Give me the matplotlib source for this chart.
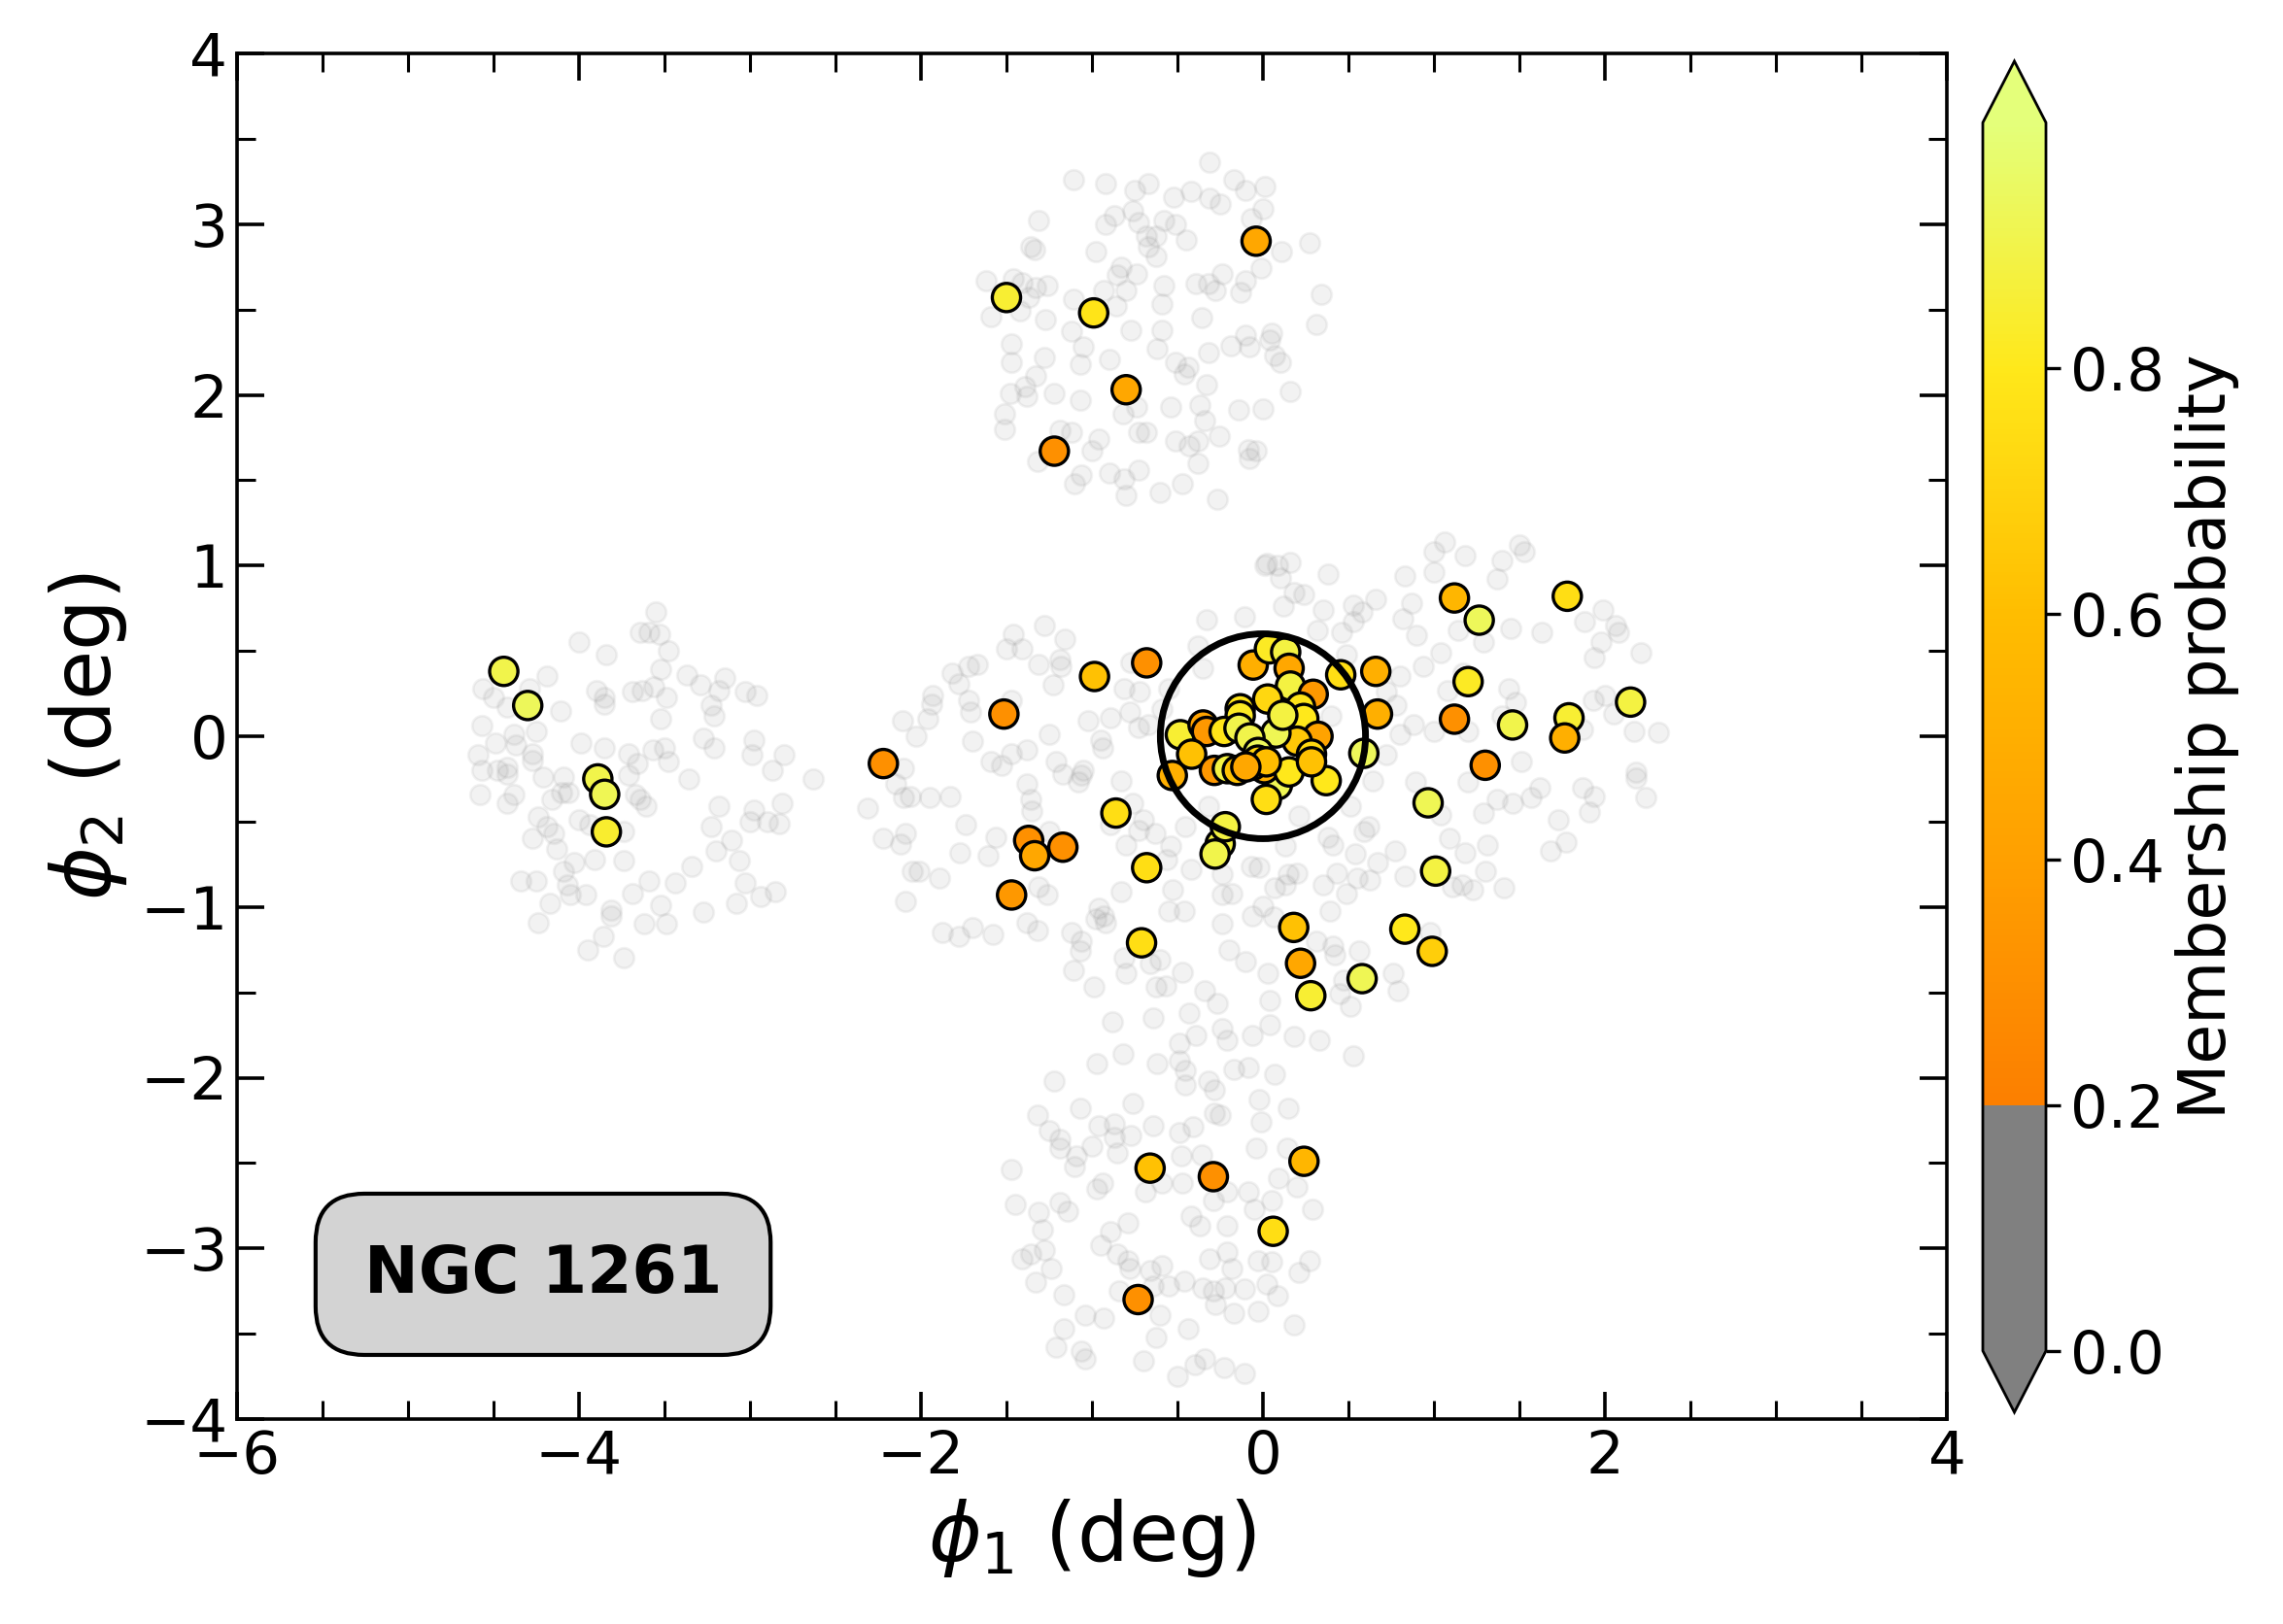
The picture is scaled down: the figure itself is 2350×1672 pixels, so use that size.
import numpy as np
import matplotlib
matplotlib.use("Agg")
import matplotlib.pyplot as plt
from matplotlib.colors import ListedColormap, Normalize
from matplotlib.patches import Circle
from matplotlib.ticker import MultipleLocator

# ---------------- data ----------------
# background stars (membership probability < 0.2), grouped by field
left_x = [-3.55,-3.64,-3.59,-3.53,-4.00,-3.84,-3.48,-3.52,-4.19,-4.56,-4.50,-4.42,-4.29,-3.90,-3.85,-3.85,-3.69,-3.63,-3.56,-3.49,
          -3.37,-3.29,-3.15,-3.18,-3.23,-3.21,-3.03,-2.96,-4.11,-3.52,-4.57,-4.49,-4.38,-4.37,-4.25,-4.59,-4.57,-4.48,-4.42,-4.42,
          -4.27,-4.27,-4.21,-3.99,-3.85,-3.71,-3.66,-3.57,-3.50,-3.48,-3.36,-3.27,-3.21,-2.98,-2.99,-2.80,-2.87,-2.63,-4.09,-3.71,
          -4.58,-4.42,-4.38,-4.16,-4.10,-4.06,-3.67,-3.61,-3.64,-4.24,-4.19,-4.15,-4.27,-4.13,-4.00,-3.94,-3.74,-3.91,-3.74,-4.03,
          -4.09,-4.07,-4.05,-3.96,-4.34,-4.25,-4.17,-4.24,-3.81,-3.81,-3.69,-3.59,-3.44,-3.34,-3.52,-3.62,-3.49,-3.27,-3.18,-3.23,
          -3.11,-3.20,-3.06,-2.98,-3.00,-2.90,-2.81,-2.83,-3.03,-2.94,-2.85,-3.08,-3.86,-3.95,-3.74]
left_y = [0.73,0.61,0.61,0.60,0.55,0.48,0.50,0.39,0.35,0.28,0.23,0.17,0.28,0.27,0.23,0.19,0.26,0.27,0.29,0.23,
          0.36,0.30,0.34,0.27,0.18,0.12,0.26,0.24,0.15,0.10,0.06,-0.04,0.01,-0.05,0.03,-0.11,-0.20,-0.20,-0.18,-0.22,
          -0.10,-0.14,-0.24,-0.04,-0.07,-0.10,-0.16,-0.08,-0.07,-0.15,-0.25,-0.01,-0.07,-0.02,-0.11,-0.11,-0.20,-0.25,-0.24,-0.23,
          -0.34,-0.39,-0.34,-0.37,-0.33,-0.33,-0.34,-0.41,-0.37,-0.47,-0.53,-0.57,-0.60,-0.66,-0.49,-0.52,-0.56,-0.72,-0.73,-0.74,
          -0.79,-0.87,-0.93,-0.93,-0.85,-0.85,-0.98,-1.09,-1.02,-1.05,-0.92,-0.85,-0.86,-0.76,-0.99,-1.10,-1.10,-1.03,-0.41,-0.53,
          -0.61,-0.67,-0.73,-0.43,-0.50,-0.50,-0.39,-0.51,-0.86,-0.94,-0.91,-0.98,-1.17,-1.25,-1.30]

top_x = [-0.31,-1.11,-0.92,-0.75,-0.67,-0.52,-0.42,-0.31,-0.25,-0.17,-0.10,0.01,0.00,-0.07,-1.31,-0.92,-0.87,-0.76,-0.73,-0.68,
         -0.625,-0.58,-0.51,-0.45,-0.67,-0.625,-1.36,-1.335,-0.98,0.11,0.275,-1.62,-1.46,-1.41,-1.33,-1.26,-1.37,-1.42,-1.59,-1.27,
         -1.11,-0.93,-0.83,-0.85,-0.74,-0.80,-0.86,-0.58,-0.59,-0.39,-0.32,-0.28,-0.24,-0.13,-0.10,-0.01,0.34,0.31,-0.36,-0.77,
         -0.59,-1.12,-1.05,-1.07,-0.90,-1.47,-1.47,-1.28,-1.33,-0.62,-0.51,-0.435,-0.46,-0.33,-0.32,-0.19,-0.10,-0.08,0.05,0.04,
         0.07,0.10,0.16,-1.48,-1.39,-1.38,-1.22,-1.07,-1.51,-1.51,-0.82,-0.74,-0.54,-0.37,-0.34,-0.14,0.00,-1.19,-1.12,-0.96,
         -1.00,-1.32,-0.73,-0.68,-0.51,-0.43,-0.38,-0.255,-0.085,-0.08,-0.04,-0.38,-1.10,-1.06,-0.90,-0.81,-0.73,-0.80,-0.60,-0.47,
         -0.265]
top_y = [3.36,3.26,3.24,3.20,3.24,3.16,3.19,3.15,3.12,3.26,3.20,3.22,3.09,3.03,3.02,3.00,3.05,3.08,3.01,2.93,
         2.93,3.02,3.00,2.91,2.87,2.81,2.87,2.85,2.84,2.84,2.89,2.67,2.68,2.66,2.63,2.64,2.57,2.49,2.46,2.44,
         2.56,2.61,2.75,2.70,2.71,2.61,2.52,2.64,2.53,2.65,2.65,2.61,2.71,2.60,2.67,2.74,2.59,2.41,2.45,2.38,
         2.38,2.37,2.28,2.18,2.21,2.30,2.19,2.22,2.11,2.27,2.19,2.16,2.12,2.06,2.25,2.29,2.35,2.28,2.36,2.32,
         2.23,2.19,2.02,2.01,2.05,1.99,2.01,1.97,1.89,1.80,1.89,1.93,1.93,1.94,1.85,1.91,1.92,1.79,1.78,1.74,
         1.67,1.61,1.78,1.78,1.73,1.70,1.73,1.76,1.68,1.63,1.67,1.60,1.48,1.53,1.54,1.51,1.56,1.41,1.43,1.48,
         1.39]

bottom_x = [-0.88,-0.64,-0.43,-0.39,-0.24,-0.21,-0.06,0.04,0.18,0.33,0.53,-0.82,-0.97,-0.62,-0.49,-0.49,-0.455,-0.455,-0.32,-0.285,
            -0.17,-0.085,0.07,-1.22,-1.32,-1.07,-0.76,-1.25,-1.19,-1.19,-1.09,-1.10,-1.00,-0.96,-0.87,-0.87,-0.85,-0.77,-0.64,-0.49,
            -0.41,-0.285,-0.25,-0.02,-0.01,0.15,-0.04,0.14,-1.47,-0.97,-0.94,-0.69,-0.59,-0.48,-0.47,-0.36,-0.29,-0.21,-0.085,-0.05,
            0.05,0.09,0.20,0.29,-1.45,-1.31,-1.19,-1.14,-1.29,-1.41,-1.36,-1.28,-1.24,-1.33,-0.79,-0.89,-0.95,-0.85,-0.79,-0.78,
            -0.66,-0.59,-0.42,-0.37,-0.21,-0.31,-0.21,-0.18,-0.03,0.05,0.21,0.27,-1.165,-1.04,-0.93,-0.84,-0.64,-0.55,-0.46,-0.35,
            -0.29,-0.28,-0.22,-0.11,-0.17,-0.03,0.02,0.085,0.18,-0.60,-0.44,-0.625,-1.165,-1.21,-1.06,-1.04,-0.70,-0.50,-0.40,-0.34,
            -0.23,-0.11]
bottom_y = [-1.67,-1.65,-1.62,-1.75,-1.71,-1.78,-1.75,-1.69,-1.76,-1.78,-1.87,-1.86,-1.92,-1.92,-1.80,-1.90,-1.96,-2.04,-2.02,-2.07,
            -1.95,-1.94,-1.98,-2.02,-2.22,-2.18,-2.15,-2.31,-2.36,-2.41,-2.46,-2.52,-2.40,-2.28,-2.27,-2.35,-2.44,-2.34,-2.28,-2.32,
            -2.29,-2.21,-2.22,-2.13,-2.26,-2.18,-2.41,-2.41,-2.54,-2.65,-2.62,-2.67,-2.62,-2.46,-2.62,-2.45,-2.72,-2.67,-2.67,-2.77,
            -2.72,-2.59,-2.64,-2.77,-2.74,-2.79,-2.73,-2.78,-2.89,-3.06,-3.03,-3.01,-3.12,-3.20,-2.85,-2.90,-2.98,-3.03,-3.07,-3.12,
            -3.13,-3.10,-2.81,-2.87,-2.87,-3.06,-3.02,-3.12,-3.07,-3.08,-3.14,-3.07,-3.27,-3.39,-3.41,-3.25,-3.22,-3.22,-3.19,-3.23,
            -3.25,-3.33,-3.23,-3.24,-3.38,-3.37,-3.21,-3.28,-3.45,-3.39,-3.47,-3.52,-3.47,-3.58,-3.60,-3.65,-3.66,-3.75,-3.68,-3.65,
            -3.70,-3.73]

central_x = [0.01,-0.33,-0.11,-0.38,-0.35,-1.28,-1.46,-1.50,-1.41,-1.16,-1.31,-1.19,-1.18,-1.23,-1.67,-1.72,-1.82,-1.78,-1.93,-1.94,
             -1.72,-1.71,-1.47,-2.11,-1.96,-2.03,-0.77,-0.81,-0.72,-0.55,-1.02,-0.89,-0.78,-0.73,-0.67,-0.95,-0.94,-1.25,-1.70,-1.59,
             -1.53,-1.47,-1.38,-1.21,-1.05,-2.10,-0.59,
             0.02,0.085,0.16,0.10,0.18,0.24,0.38,0.12,0.35,0.32,0.46,0.53,0.53,0.58,0.66,0.83,0.87,0.82,0.90,1.00,
             1.00,1.06,1.18,1.40,1.50,1.53,1.37,1.14,1.29,1.45,1.63,1.04,0.94,0.80,0.72,0.78,0.80,0.88,1.00,1.20,
             1.08,1.17,1.44,1.48,1.40,1.99,1.88,2.06,2.08,1.98,1.94,2.21,1.93,2.00,2.05,2.17,2.31,1.87,1.51,2.18,
             0.40,0.49,0.72,
             -2.15,-2.10,-2.06,-1.95,-1.83,-2.31,-2.22,-2.12,-2.09,-1.77,-1.74,-1.56,-1.61,-1.38,-1.36,-1.35,-1.06,-1.08,-0.83,-1.25,
             -2.05,-2.01,-1.89,-2.09,-1.31,-1.26,-1.38,-1.32,-1.875,-1.78,-1.70,-1.58,-1.12,-1.06,-1.07,-0.98,-0.92,-0.96,-0.83,-0.76,
             -0.70,-0.73,-0.63,-0.80,-0.54,-0.56,-0.42,-0.53,-0.55,-0.46,-0.24,-0.24,-0.18,-0.24,-0.20,-0.10,-0.07,-0.06,-0.32,-0.455,
             -0.81,-0.80,-0.66,-0.60,-0.47,-1.11,-0.99,-0.625,-0.57,-0.34,-0.265,-0.93,-0.89,-1.17,
             0.64,0.89,1.20,1.29,1.37,1.46,1.57,1.62,1.87,1.94,1.91,2.18,2.24,1.73,1.77,1.68,1.04,1.09,1.18,1.31,
             1.30,1.41,1.23,1.11,1.165,0.83,0.77,0.67,0.625,0.55,0.49,0.43,0.35,0.39,0.54,0.59,0.62,0.51,0.38,0.41,
             0.13,-0.02,0.15,0.20,0.13,0.07,0.00,0.06,0.31,0.41,0.42,0.56,0.47,0.45,0.51,0.79,0.76,0.98,0.03,0.04,
             0.21]
central_y = [1.00,0.68,0.70,0.53,0.40,0.65,0.60,0.51,0.51,0.57,0.42,0.45,0.41,0.30,0.42,0.41,0.37,0.31,0.24,0.19,
             0.21,0.14,0.21,0.09,0.10,0.00,0.43,0.28,0.26,0.28,0.09,0.11,0.14,0.05,0.07,-0.02,-0.07,0.01,-0.03,-0.15,
             -0.17,-0.10,-0.08,-0.15,-0.20,-0.19,0.16,
             1.01,1.00,1.02,0.93,0.84,0.83,0.95,0.76,0.74,0.62,0.61,0.77,0.67,0.73,0.80,0.94,0.78,0.69,0.59,0.96,
             1.08,1.14,1.06,1.03,1.12,1.08,0.92,0.62,0.55,0.63,0.61,0.49,0.41,0.35,0.26,0.18,0.01,0.07,0.03,0.03,
             0.27,0.37,0.28,0.20,0.12,0.74,0.67,0.65,0.61,0.55,0.46,0.49,0.21,0.24,0.13,0.03,0.02,0.04,-0.15,-0.21,
             0.12,0.48,-0.11,
             -0.28,-0.36,-0.35,-0.36,-0.35,-0.42,-0.60,-0.63,-0.57,-0.68,-0.52,-0.59,-0.70,-0.28,-0.37,-0.44,-0.23,-0.27,-0.26,-0.56,
             -0.79,-0.79,-0.83,-0.97,-0.88,-0.93,-1.09,-1.14,-1.15,-1.17,-1.12,-1.16,-1.15,-1.20,-1.26,-1.07,-1.09,-1.005,-0.91,-0.39,
             -0.49,-0.55,-0.57,-0.64,-0.645,-0.72,-0.78,-0.90,-1.025,-1.025,-0.81,-0.93,-0.92,-1.10,-1.25,-1.32,-0.76,-1.05,-0.41,-0.53,
             -1.30,-1.39,-1.33,-1.31,-1.385,-1.37,-1.47,-1.47,-1.46,-1.49,-1.565,-1.05,-0.52,-0.22,
             -0.26,-0.265,-0.27,-0.45,-0.37,-0.39,-0.36,-0.30,-0.30,-0.35,-0.445,-0.245,-0.36,-0.49,-0.62,-0.67,-0.46,-0.60,-0.68,-0.635,
             -0.79,-0.89,-0.90,-0.88,-0.87,-0.82,-0.67,-0.74,-0.84,-0.83,-0.92,-0.80,-0.87,-1.025,-0.69,-0.56,-0.53,-0.41,-0.59,-0.635,
             -0.645,-0.77,-0.81,-0.80,-0.87,-0.89,-0.996,-1.06,-1.20,-1.23,-1.28,-1.26,-1.43,-1.51,-1.58,-1.49,-1.39,-1.15,-1.39,-1.55,
             -0.465]

# candidate members: phi1, phi2, membership probability
mem_x = [-0.04,-1.50,-0.99,-0.80,-1.22,-4.44,-4.30,-3.89,-3.85,-3.84,-2.22,-1.515,-0.985,-0.68,-1.37,-1.335,-1.17,-1.47,-0.86,-0.68,
         -0.71,-0.25,-0.28,-0.22,0.18,0.22,0.28,0.58,0.83,0.99,1.01,0.966,0.37,0.085,1.12,1.265,1.78,1.20,1.12,1.46,
         1.79,1.765,2.15,1.30,0.66,0.67,0.455,0.59,-0.66,-0.29,0.24,0.06,-0.73,-0.53,
         -0.057,0.038,0.133,0.153,0.161,0.294,0.028,0.22,0.239,0.322,0.20,0.284,0.076,-0.133,-0.133,0.116,-0.483,-0.35,-0.33,-0.227,
         -0.14,-0.076,-0.028,-0.417,-0.284,-0.208,-0.15,0.008,0.153,0.02,0.284,-0.06,-0.03,0.02,-0.10]
mem_y = [2.90,2.57,2.48,2.03,1.67,0.38,0.18,-0.25,-0.34,-0.56,-0.16,0.13,0.35,0.43,-0.61,-0.70,-0.65,-0.93,-0.45,-0.77,
         -1.21,-0.63,-0.69,-0.53,-1.12,-1.33,-1.52,-1.42,-1.13,-1.26,-0.79,-0.39,-0.26,-0.285,0.81,0.68,0.82,0.32,0.10,0.066,
         0.108,-0.01,0.20,-0.17,0.38,0.13,0.36,-0.10,-2.53,-2.58,-2.49,-2.90,-3.30,-0.23,
         0.417,0.512,0.493,0.398,0.294,0.246,0.218,0.171,0.104,0.0,-0.029,-0.105,0.019,0.161,0.12,0.123,0.009,0.066,0.028,0.028,
         0.047,-0.01,-0.095,-0.105,-0.20,-0.19,-0.20,-0.19,-0.209,-0.37,-0.15,-0.17,-0.14,-0.15,-0.18]
mem_p = [0.45,0.85,0.78,0.45,0.30,0.90,0.93,0.90,0.92,0.84,0.30,0.30,0.62,0.30,0.30,0.45,0.30,0.35,0.75,0.75,
         0.75,0.88,0.90,0.88,0.62,0.45,0.85,0.92,0.80,0.68,0.88,0.92,0.80,0.92,0.55,0.93,0.75,0.82,0.30,0.90,
         0.85,0.50,0.88,0.30,0.50,0.50,0.75,0.93,0.62,0.30,0.55,0.75,0.30,0.50,
         0.50,0.82,0.88,0.45,0.88,0.35,0.72,0.78,0.80,0.42,0.65,0.72,0.92,0.78,0.82,0.88,0.85,0.42,0.35,0.78,
         0.90,0.90,0.93,0.62,0.35,0.88,0.62,0.50,0.80,0.75,0.62,0.55,0.70,0.60,0.45]

cluster_name = "NGC 1261"
cluster_radius = 0.6
cbar_ticks = [0.0, 0.2, 0.4, 0.6, 0.8]

# ---------------- figure ----------------
W, H = 2350, 1672
dpi = 200
fig = plt.figure(figsize=(W / dpi, H / dpi), dpi=dpi)
ax = fig.add_axes([244 / W, 1 - 1461 / H, 1760 / W, 1406 / H])
cax = fig.add_axes([2041 / W, 1 - 1454 / H, 65 / W, 1391 / H])

# colormap: grey below 0.2, Wistia (reversed) from 0.2 to 1
n_tot = 500
n_grey = 100
wist = plt.get_cmap("Wistia_r")(np.linspace(0, 1, n_tot - n_grey))
grey = np.tile(np.array([0.5, 0.5, 0.5, 1.0]), (n_grey, 1))
cmap = ListedColormap(np.vstack([grey, wist]))
cmap.set_under("#808080")
cmap.set_over(plt.get_cmap("Wistia_r")(1.0))
norm = Normalize(vmin=0.0, vmax=1.0)

bg_x = left_x + top_x + bottom_x + central_x
bg_y = left_y + top_y + bottom_y + central_y
ax.scatter(bg_x, bg_y, s=55, color="gray", alpha=0.1, linewidths=1.0, zorder=1)

sc = ax.scatter(mem_x, mem_y, c=mem_p, cmap=cmap, norm=norm, s=110,
                edgecolors="black", linewidths=1.2, zorder=3)

ax.add_patch(Circle((0, 0), cluster_radius, fill=False, edgecolor="black",
                    linewidth=2.5, zorder=4))

ax.text(0.179, 0.106, cluster_name, transform=ax.transAxes, ha="center", va="center",
        fontsize=24, fontweight="bold", zorder=6,
        bbox=dict(boxstyle="round,pad=0.75", facecolor="#d3d3d3", edgecolor="black", linewidth=1.5))

ax.set_xlim(-6, 4)
ax.set_ylim(-4, 4)
ax.xaxis.set_major_locator(MultipleLocator(2))
ax.xaxis.set_minor_locator(MultipleLocator(0.5))
ax.yaxis.set_major_locator(MultipleLocator(1))
ax.yaxis.set_minor_locator(MultipleLocator(0.5))
ax.tick_params(which="both", direction="in", top=True, right=True, labelsize=22)
ax.tick_params(which="major", length=10, width=1.3)
ax.tick_params(which="minor", length=7, width=1.1)
for sp in ax.spines.values():
    sp.set_linewidth(1.3)
ax.set_xlabel(r"$\phi_1$ (deg)", fontsize=30)
ax.set_ylabel(r"$\phi_2$ (deg)", fontsize=30)

cb = fig.colorbar(sc, cax=cax, extend="both")
cb.set_ticks(cbar_ticks)
cb.ax.tick_params(labelsize=22, length=5.5, width=1.2, direction="out")
cb.outline.set_linewidth(1.0)
cb.set_label("Membership probability", fontsize=24)

fig.savefig("out.png", dpi=dpi)
